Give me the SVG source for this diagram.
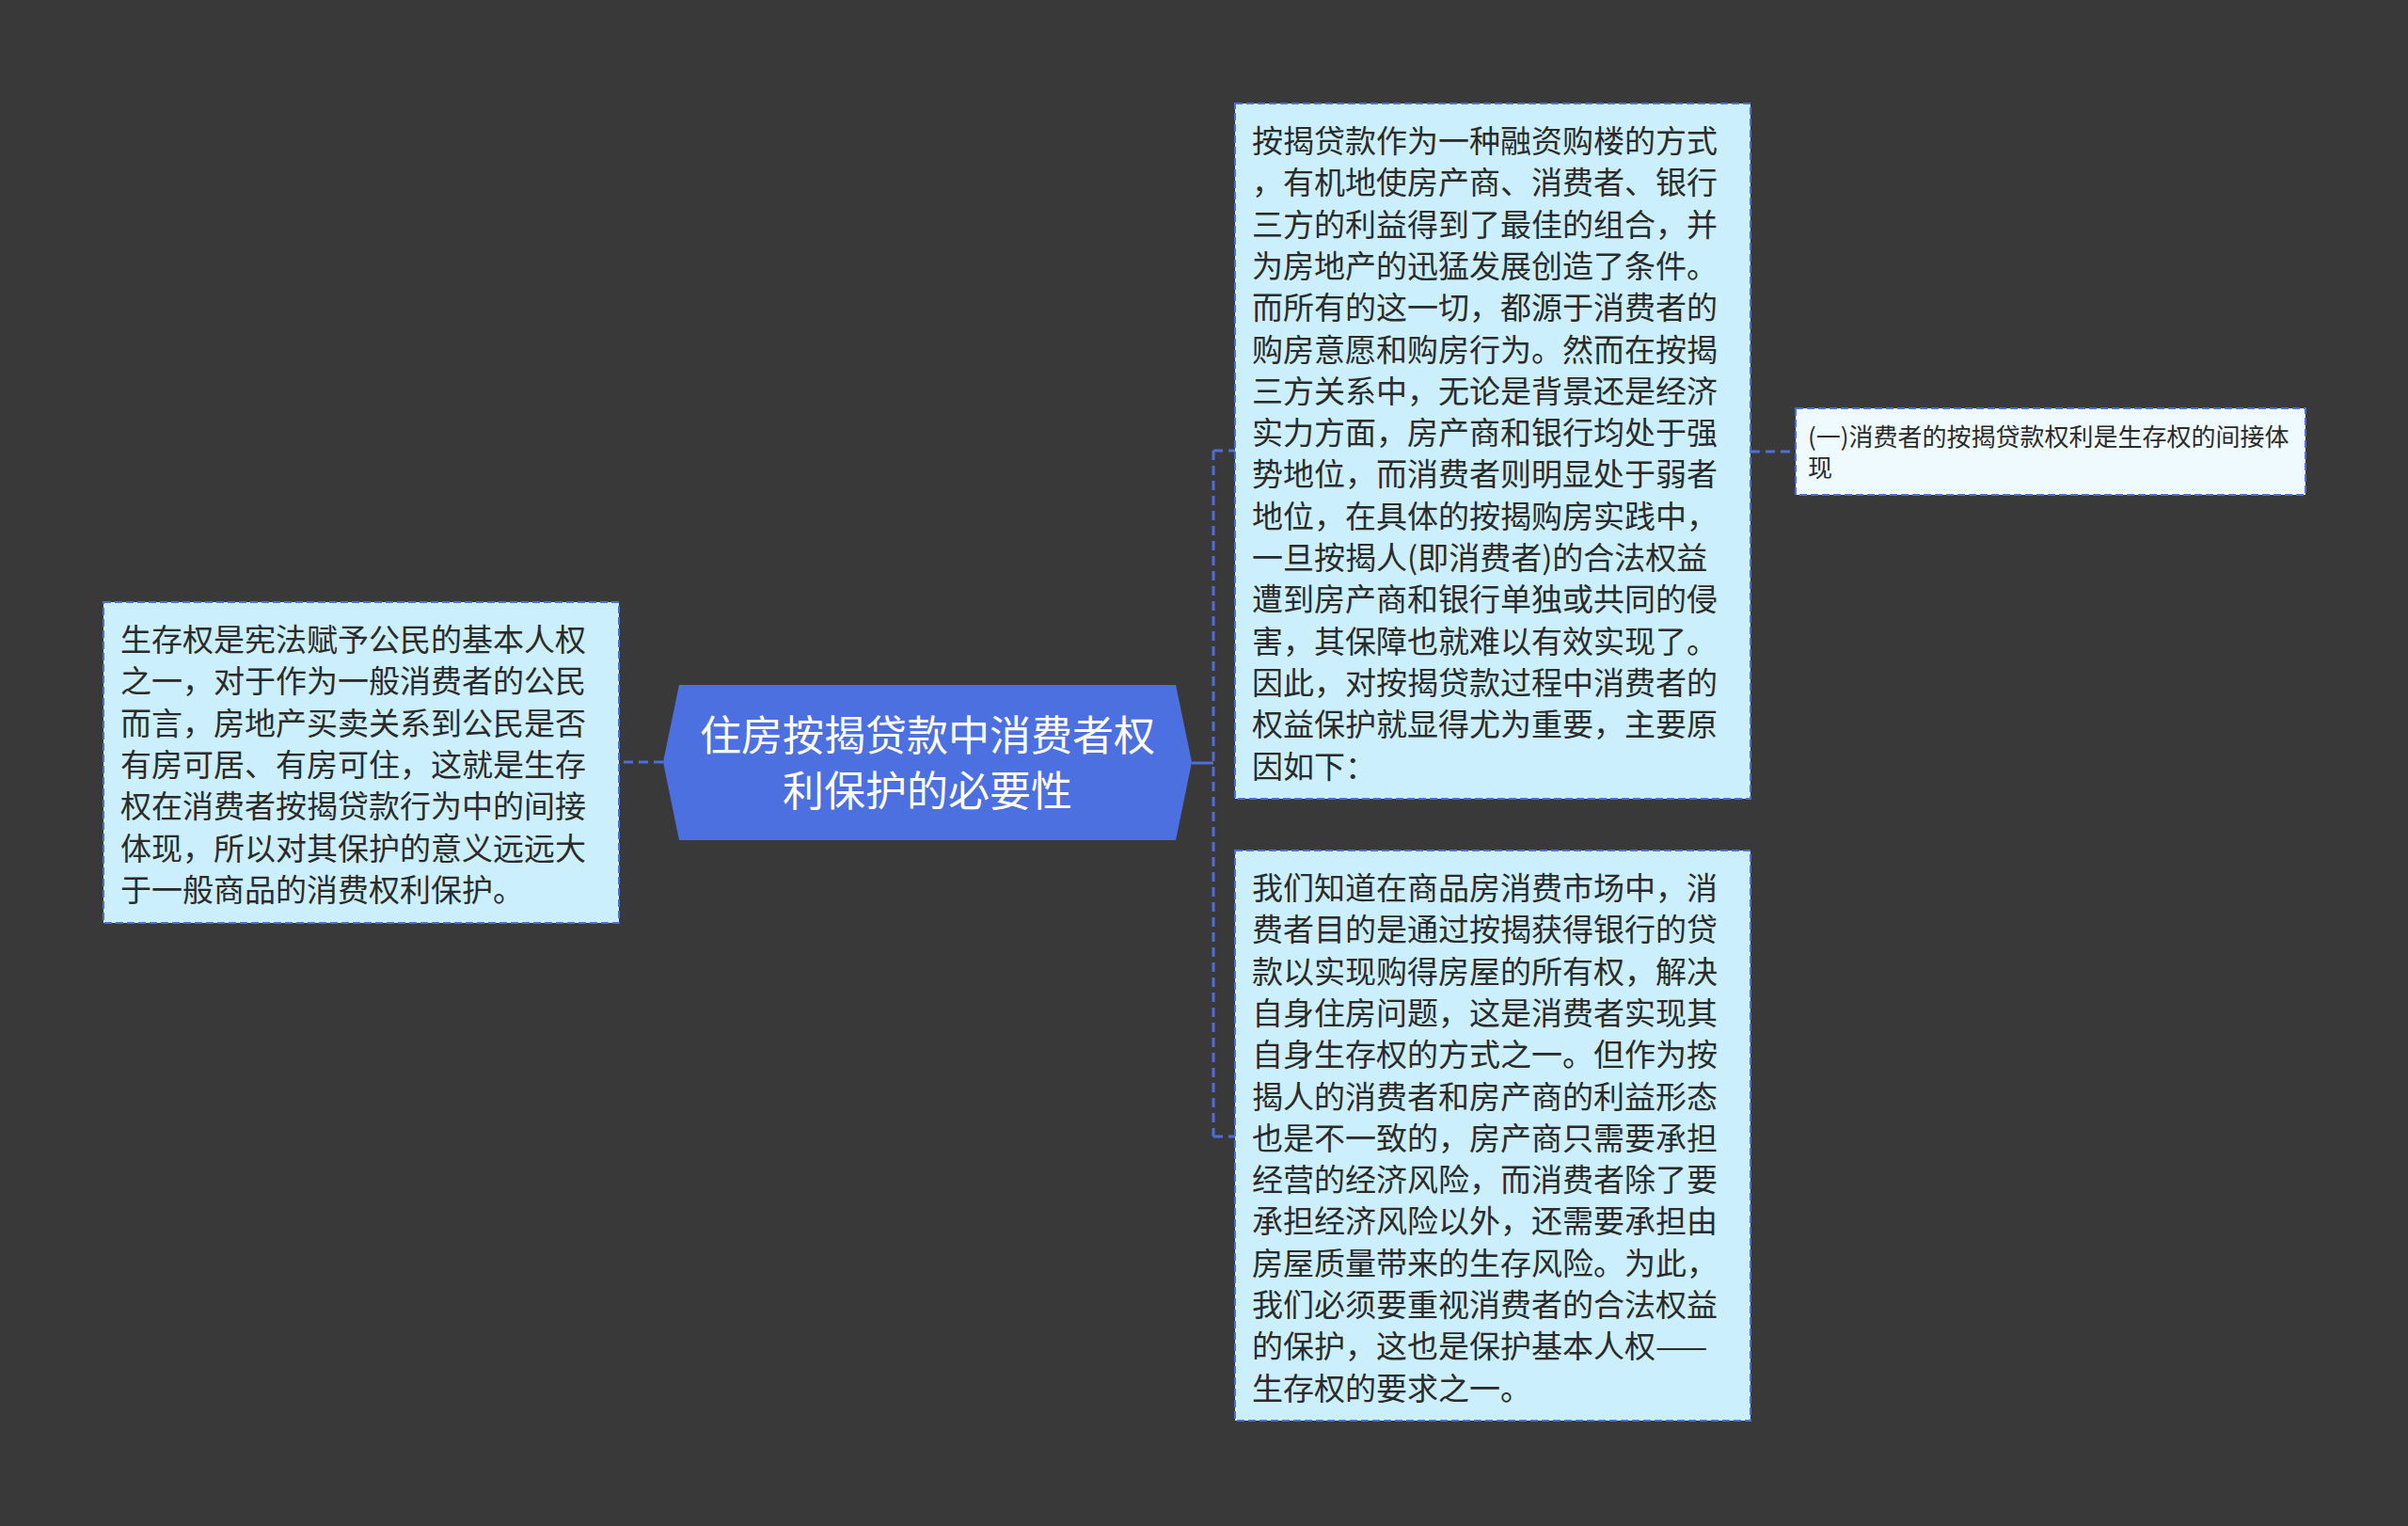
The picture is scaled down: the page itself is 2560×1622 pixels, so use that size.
<svg xmlns="http://www.w3.org/2000/svg" width="2560" height="1622" viewBox="0 0 2560 1622">
<style>
.bg{fill:#3a393a}
.box{fill:#cbeffd;stroke:#4f6fd8;stroke-width:2;stroke-dasharray:8 4}
.small{fill:#effafe;stroke:#4f6fd8;stroke-width:2;stroke-dasharray:8 4}
.center{fill:#4d70e0}
.t{font-family:"Noto Sans CJK SC","Noto Sans",sans-serif;fill:#2b2b2b;font-size:33px}
.ts{font-family:"Noto Sans CJK SC","Noto Sans",sans-serif;fill:#2b2b2b;font-size:26px}
.tc{font-family:"Noto Sans CJK SC","Noto Sans",sans-serif;fill:#ffffff;font-size:44px;text-anchor:middle}
.conn{fill:none;stroke:#4f6fd8;stroke-width:3;stroke-dasharray:10 6}
.solid{fill:none;stroke:#4f6fd8;stroke-width:3}
</style>
<rect class="bg" x="0" y="0" width="2560" height="1622"/>
<g id="connectors">
<path class="conn" d="M705 810 H658"/>
<path class="solid" d="M1267 811 H1290"/>
<path class="conn" d="M1290 479 V1208"/>
<path class="conn" d="M1290 479 H1313"/>
<path class="conn" d="M1290 1208 H1313"/>
<path class="conn" d="M1861 480 H1909"/>
</g>
<g id="center">
<polygon class="center" points="705,810 722,728 1250,728 1267,810 1250,893 722,893"/>
<text class="tc"><tspan x="986" y="798">住房按揭贷款中消费者权</tspan><tspan x="986" y="857">利保护的必要性</tspan></text>
</g>
<g id="left">
<rect class="box" x="110" y="640" width="548" height="341"/>
<text class="t">
<tspan x="128" y="692">生存权是宪法赋予公民的基本人权</tspan>
<tspan x="128" y="736">之一，对于作为一般消费者的公民</tspan>
<tspan x="128" y="781">而言，房地产买卖关系到公民是否</tspan>
<tspan x="128" y="825">有房可居、有房可住，这就是生存</tspan>
<tspan x="128" y="869">权在消费者按揭贷款行为中的间接</tspan>
<tspan x="128" y="914">体现，所以对其保护的意义远远大</tspan>
<tspan x="128" y="958">于一般商品的消费权利保护。</tspan>
</text>
</g>
<g id="top-right">
<rect class="box" x="1313" y="110" width="548" height="739"/>
<text class="t">
<tspan x="1331" y="162">按揭贷款作为一种融资购楼的方式</tspan>
<tspan x="1331" y="206">，有机地使房产商、消费者、银行</tspan>
<tspan x="1331" y="251">三方的利益得到了最佳的组合，并</tspan>
<tspan x="1331" y="295">为房地产的迅猛发展创造了条件。</tspan>
<tspan x="1331" y="339">而所有的这一切，都源于消费者的</tspan>
<tspan x="1331" y="384">购房意愿和购房行为。然而在按揭</tspan>
<tspan x="1331" y="428">三方关系中，无论是背景还是经济</tspan>
<tspan x="1331" y="472">实力方面，房产商和银行均处于强</tspan>
<tspan x="1331" y="516">势地位，而消费者则明显处于弱者</tspan>
<tspan x="1331" y="561">地位，在具体的按揭购房实践中，</tspan>
<tspan x="1331" y="605">一旦按揭人(即消费者)的合法权益</tspan>
<tspan x="1331" y="649">遭到房产商和银行单独或共同的侵</tspan>
<tspan x="1331" y="694">害，其保障也就难以有效实现了。</tspan>
<tspan x="1331" y="738">因此，对按揭贷款过程中消费者的</tspan>
<tspan x="1331" y="782">权益保护就显得尤为重要，主要原</tspan>
<tspan x="1331" y="827">因如下：</tspan>
</text>
</g>
<g id="bottom-right">
<rect class="box" x="1313" y="904" width="548" height="606"/>
<text class="t">
<tspan x="1331" y="956">我们知道在商品房消费市场中，消</tspan>
<tspan x="1331" y="1000">费者目的是通过按揭获得银行的贷</tspan>
<tspan x="1331" y="1045">款以实现购得房屋的所有权，解决</tspan>
<tspan x="1331" y="1089">自身住房问题，这是消费者实现其</tspan>
<tspan x="1331" y="1133">自身生存权的方式之一。但作为按</tspan>
<tspan x="1331" y="1178">揭人的消费者和房产商的利益形态</tspan>
<tspan x="1331" y="1222">也是不一致的，房产商只需要承担</tspan>
<tspan x="1331" y="1266">经营的经济风险，而消费者除了要</tspan>
<tspan x="1331" y="1310">承担经济风险以外，还需要承担由</tspan>
<tspan x="1331" y="1355">房屋质量带来的生存风险。为此，</tspan>
<tspan x="1331" y="1399">我们必须要重视消费者的合法权益</tspan>
<tspan x="1331" y="1443">的保护，这也是保护基本人权——</tspan>
<tspan x="1331" y="1488">生存权的要求之一。</tspan>
</text>
</g>
<g id="small-right">
<rect class="small" x="1909" y="434" width="542" height="92"/>
<text class="ts"><tspan x="1922" y="474">(一)消费者的按揭贷款权利是生存权的间接体</tspan><tspan x="1922" y="507">现</tspan></text>
</g>
</svg>
